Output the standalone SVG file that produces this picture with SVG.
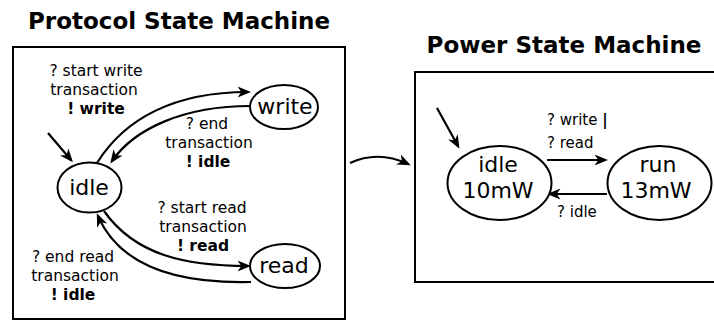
<svg xmlns="http://www.w3.org/2000/svg" width="714" height="321" viewBox="0 0 714 321">
<defs>
<style>
text{font-family:"DejaVu Sans","Liberation Sans",sans-serif;fill:#000}
.title{font-size:23px;font-weight:bold}
.state{font-size:22px;text-anchor:middle}
.lbl{font-size:15.5px;text-anchor:middle}
.lbl2{font-size:15px}
.b{font-weight:bold}
.box{fill:#fff;stroke:#000;stroke-width:2}
.node{fill:#fff;stroke:#000;stroke-width:2}
.edge{fill:none;stroke:#000;stroke-width:2.2;marker-end:url(#arr)}
</style>
<marker id="arr" viewBox="0 -7 14 14" refX="10.5" refY="0" markerWidth="14" markerHeight="14" markerUnits="userSpaceOnUse" orient="auto">
<path d="M0,-5.5 L13.5,0 L0,5.5 L3.8,0 Z" fill="#000"/>
</marker>
</defs>
<rect width="714" height="321" fill="#fff"/>
<text class="title" x="179" y="29" text-anchor="middle">Protocol State Machine</text>
<text class="title" x="564" y="53" text-anchor="middle">Power State Machine</text>
<rect class="box" x="13" y="47" width="332" height="272"/>
<rect class="box" x="415" y="72" width="310" height="210"/>
<g id="connectors">
<path class="edge" d="M48,133 L71,160"/>
<path class="edge" d="M97,163 C125,118 175,92 248,92"/>
<path class="edge" d="M250,106 C185,106 135,128 112,161"/>
<path class="edge" d="M104,211 C135,255 185,266 248,266"/>
<path class="edge" d="M251,282 C170,284 118,262 98,216"/>
<path class="edge" d="M350,163 Q378,150 408,164"/>
<path class="edge" d="M437,108 L458,146"/>
<path class="edge" d="M547,160 L605,160"/>
<path class="edge" d="M607,194 L550,194"/>
</g>
<g id="p-idle">
<ellipse class="node" cx="89.5" cy="187.5" rx="32" ry="25"/>
<text class="state" x="89" y="195">idle</text>
</g>
<g id="p-write">
<ellipse class="node" cx="284" cy="107" rx="34" ry="22"/>
<text class="state" x="285" y="114">write</text>
</g>
<g id="p-read">
<ellipse class="node" cx="285" cy="266" rx="35" ry="22"/>
<text class="state" x="284" y="273">read</text>
</g>
<g id="w-idle">
<ellipse class="node" cx="499.5" cy="183" rx="52" ry="37"/>
<text class="state" x="498" y="172">idle</text>
<text class="state" x="498" y="198">10mW</text>
</g>
<g id="w-run">
<ellipse class="node" cx="659.5" cy="183" rx="52" ry="37"/>
<text class="state" x="658" y="172">run</text>
<text class="state" x="656" y="198">13mW</text>
</g>
<g id="labels">
<text class="lbl" x="96" y="76">? start write</text>
<text class="lbl" x="94" y="95">transaction</text>
<text class="lbl b" x="96" y="114">! write</text>
<text class="lbl" x="207" y="129">? end</text>
<text class="lbl" x="209" y="148">transaction</text>
<text class="lbl b" x="208" y="167">! idle</text>
<text class="lbl" x="202" y="213">? start read</text>
<text class="lbl" x="203" y="232">transaction</text>
<text class="lbl b" x="203" y="251">! read</text>
<text class="lbl" x="73" y="262">? end read</text>
<text class="lbl" x="75" y="281">transaction</text>
<text class="lbl b" x="73" y="300">! idle</text>
<text class="lbl2" x="547" y="125">? write <tspan class="b">|</tspan></text>
<text class="lbl2" x="547" y="148">? read</text>
<text class="lbl2" x="557" y="217">? idle</text>
</g>
</svg>
